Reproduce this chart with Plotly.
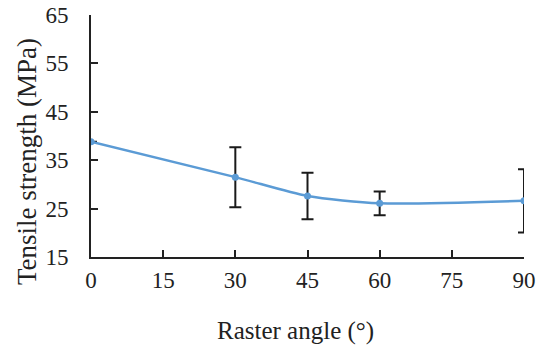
import plotly.graph_objects as go

angles = [0, 30, 45, 60, 90]
strength = [38.8, 31.5, 27.6, 26.1, 26.6]
err = [None, 6.2, 4.8, 2.45, 6.55]

x_ticks = [0, 15, 30, 45, 60, 75, 90]
y_ticks = [15, 25, 35, 45, 55, 65]

FONT = "Liberation Serif, Times New Roman, serif"
INK = "#222222"

fig = go.Figure()
fig.add_trace(go.Scatter(
    x=angles, y=strength,
    mode="lines+markers",
    line=dict(color="#5B9BD5", width=2.5, shape="spline", smoothing=0.7),
    marker=dict(color="#5B9BD5", size=7),
    error_y=dict(type="data", array=err, visible=True, color="#1a1a1a", thickness=2, width=6),
    showlegend=False,
))

axis_common = dict(
    showgrid=False, zeroline=False, automargin=False,
    showline=True, linecolor=INK, linewidth=2,
    ticks="inside", ticklen=7, tickwidth=2, tickcolor=INK,
    tickfont=dict(family=FONT, size=23, color=INK),
    ticklabeloverflow="allow",
)

fig.update_xaxes(
    range=[0, 90], tickvals=x_ticks, ticktext=[str(v) for v in x_ticks],
    ticklabelstandoff=1,
    **axis_common,
)
fig.update_yaxes(
    range=[15, 65], tickvals=y_ticks, ticktext=[str(v) for v in y_ticks],
    ticklabelstandoff=16,
    **axis_common,
)

# plot area at page x 91..524, y 15..257 (body margin removed below)
W, H = 546, 353
L, T = 91, 15
pw, ph = 433, 242
R = W - L - pw
B = H - T - ph

def px_to_paper_x(px):
    return (px - L) / pw

def px_to_paper_y(py):
    return (T + ph - py) / ph

fig.add_annotation(
    text="Raster angle (°)", xref="paper", yref="paper",
    x=px_to_paper_x(295), y=px_to_paper_y(331),
    xanchor="center", yanchor="middle", showarrow=False,
    font=dict(family=FONT, size=25, color=INK),
)
fig.add_annotation(
    text="Tensile strength (MPa)", xref="paper", yref="paper",
    x=px_to_paper_x(27), y=px_to_paper_y(162),
    xanchor="center", yanchor="middle", showarrow=False, textangle=-90,
    font=dict(family=FONT, size=27, color=INK),
)

fig.update_layout(
    width=W, height=H,
    margin=dict(l=L, r=R, t=T, b=B),
    plot_bgcolor="white", paper_bgcolor="white",
)

fig.write_html(
    "out.html",
    config={"displayModeBar": False},
    post_script="document.body.style.margin='0';",
)
